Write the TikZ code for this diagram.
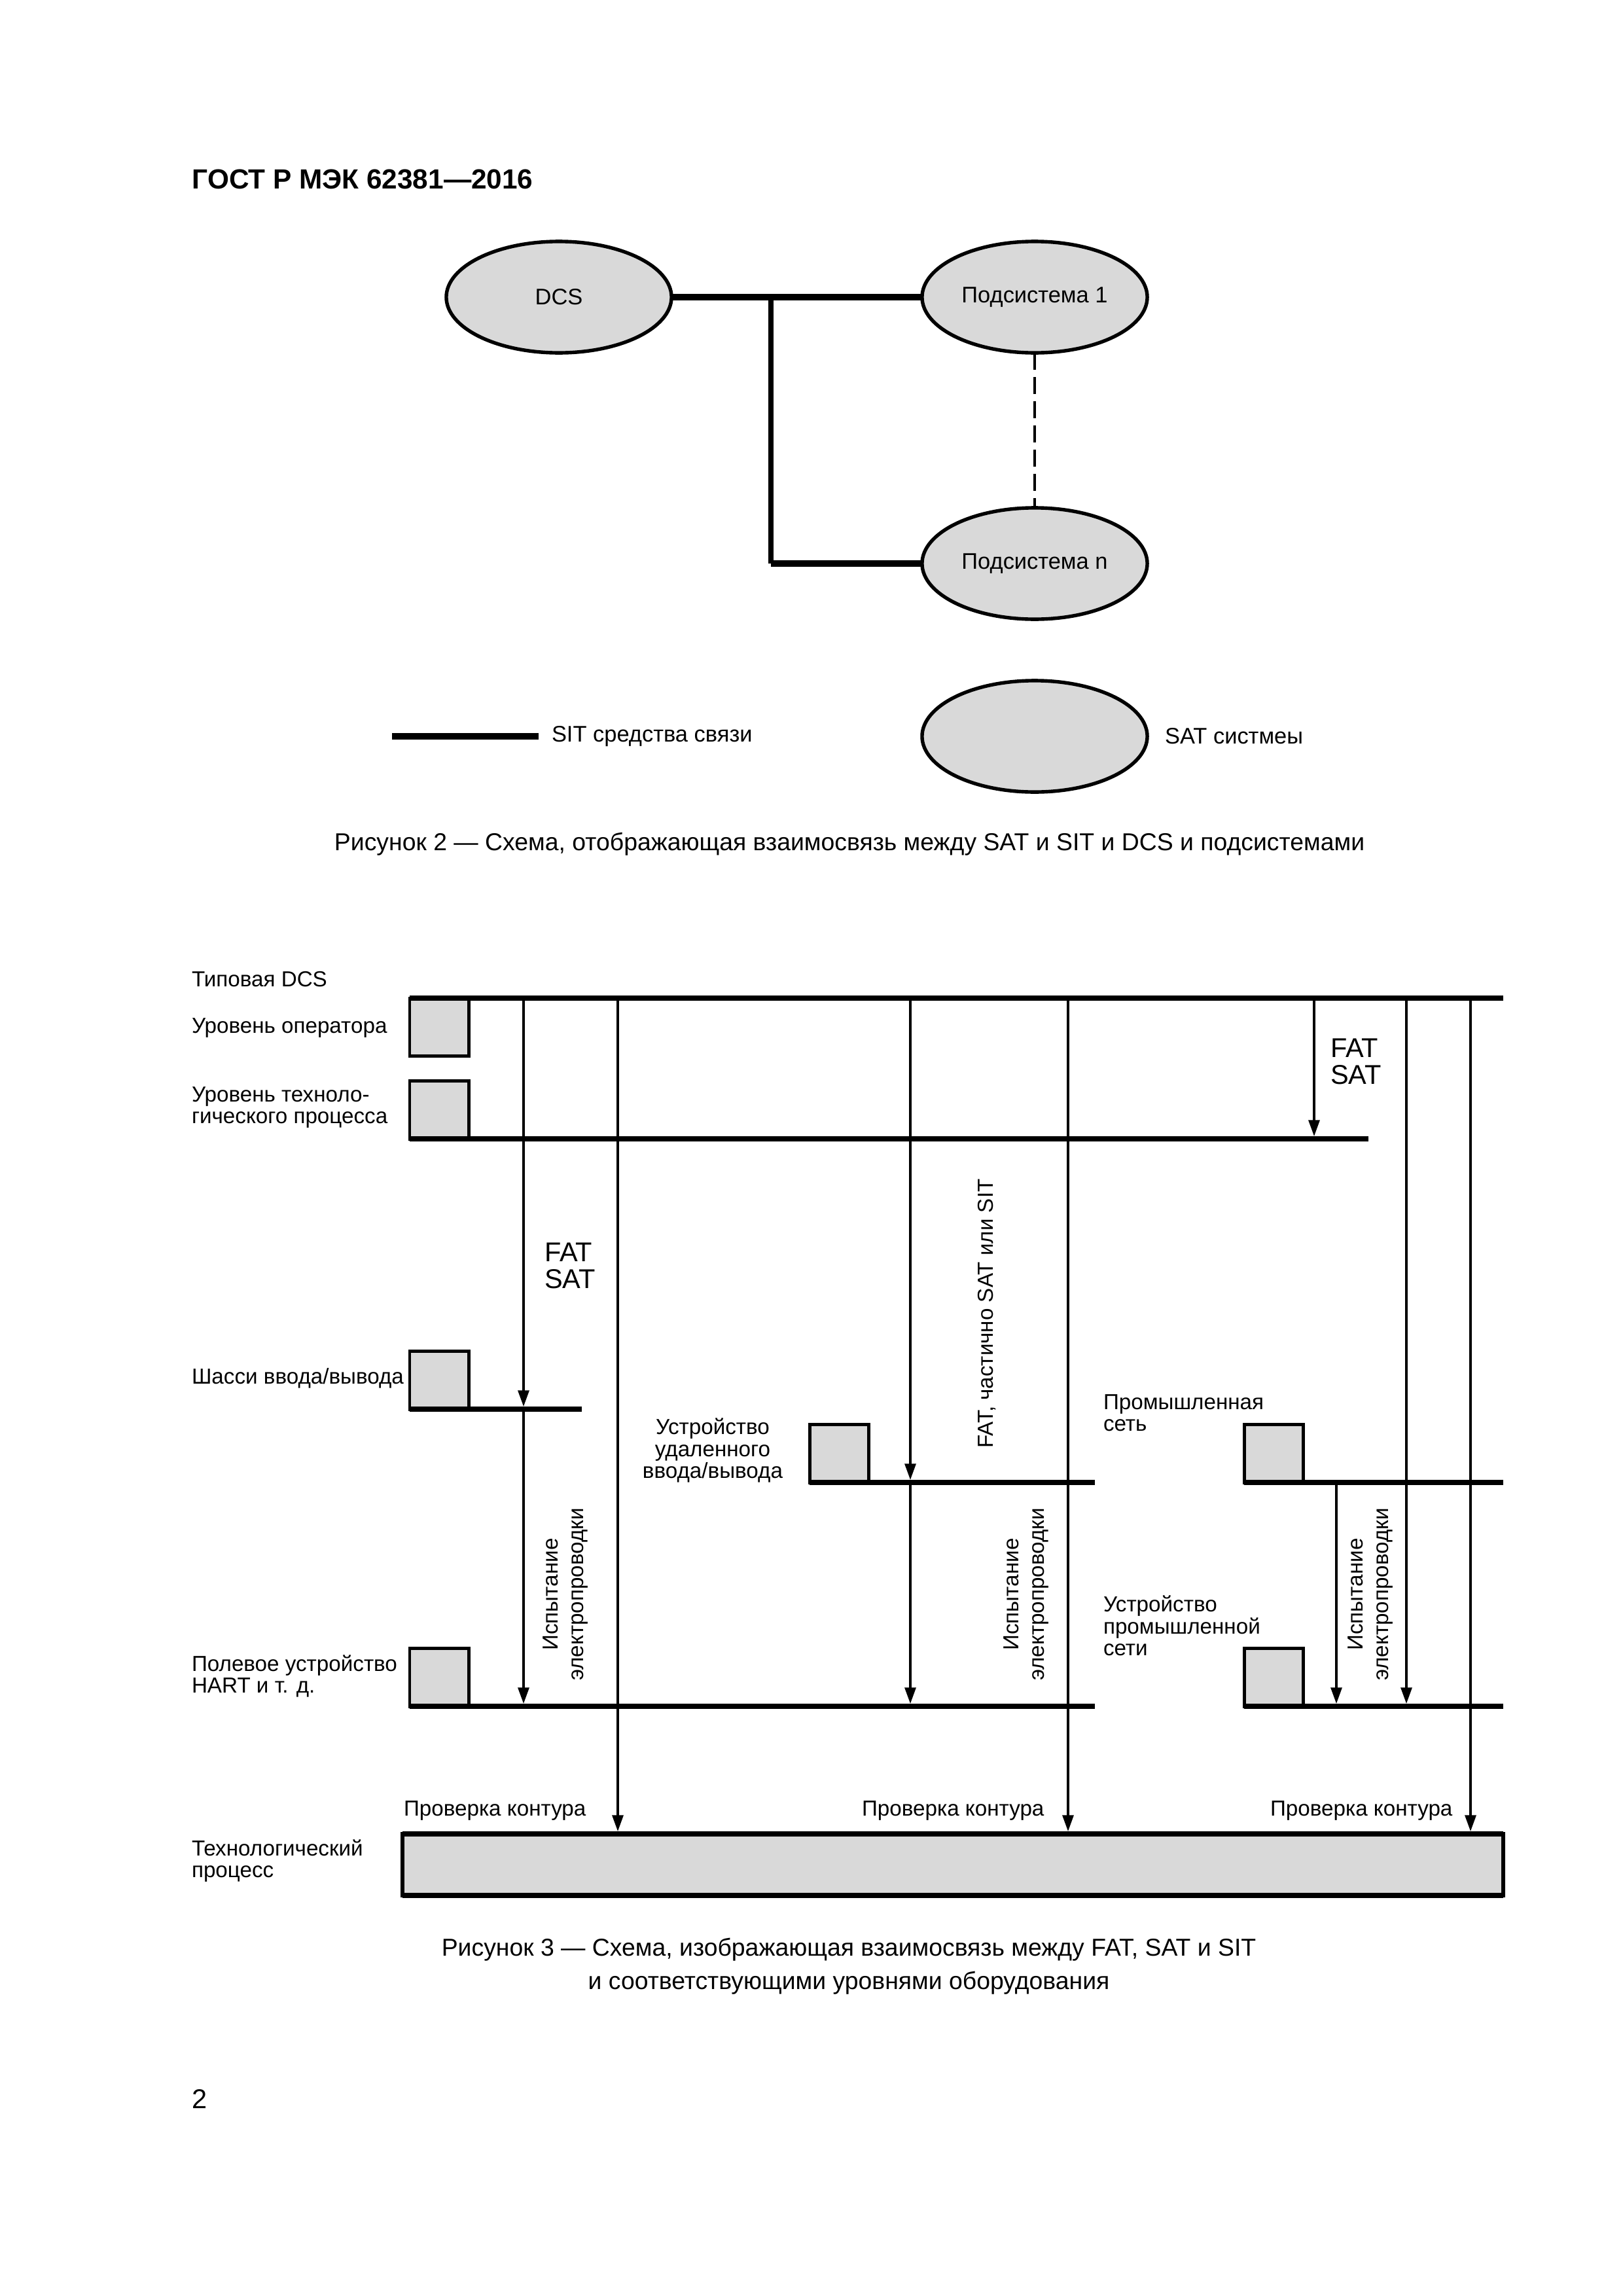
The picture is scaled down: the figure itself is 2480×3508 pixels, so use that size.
\documentclass[tikz,border=0pt]{standalone}
\usepackage{fontspec}
\setmainfont{Liberation Sans}
\usetikzlibrary{shapes.geometric,arrows.meta}
\begin{document}
\begin{tikzpicture}[x=0.0846667mm,y=-0.0846667mm,
  lbl/.style={inner sep=0pt, outer sep=0pt, align=left, font=\fontsize{8}{8}\selectfont},
  lbltwo/.style={inner sep=0pt, outer sep=0pt, align=left, font=\fontsize{8.3}{9}\selectfont},
  rlbl/.style={inner sep=0pt, outer sep=0pt, align=center, rotate=90, font=\fontsize{8}{9.3}\selectfont},
  big/.style={inner sep=0pt, outer sep=0pt, align=left, font=\fontsize{10}{10}\selectfont},
  figcap/.style={inner sep=0pt, outer sep=0pt, align=center, font=\fontsize{9}{12.3}\selectfont},
  ell/.style={ellipse, draw, line width=1.3pt, fill=black!15, minimum width=82.9pt, minimum height=41pt, inner sep=0pt, outer sep=0pt, font=\fontsize{8.3}{9}\selectfont},
  hline/.style={line width=2.4pt},
  vline/.style={line width=1.8pt},
  dashln/.style={line width=1pt, dash pattern=on 6.3pt off 2.6pt},
  bus/.style={line width=1.9pt},
  devbox/.style={draw, line width=1.2pt, fill=black!15, minimum width=21.7pt, minimum height=21.4pt, inner sep=0pt, outer sep=0pt},
  arr/.style={line width=1pt, -{Triangle[length=6pt,width=4pt]}, shorten >=0.9pt}
]
\useasboundingbox[fill=white] (0,0) rectangle (2480,3508);

% title
\node[anchor=base west, inner sep=0pt, font=\fontsize{10.2}{12}\selectfont\bfseries] (title) at (293,288) {ГОСТ Р МЭК 62381—2016};

% ---------- Figure 2 ----------
\node[ell] (dcs) at (854,454) {DCS};
\node[ell] (s1) at (1581,454) {Подсистема 1};
\node[ell] (sn) at (1581,861) {Подсистема n};
\coordinate (j) at (1178,454);
\draw[hline] (dcs.east) -- (s1.west);
\draw[vline] (j) -- (j |- sn.west);
\draw[hline] (j |- sn.west) -- (sn.west);
\draw[dashln] (s1.south) -- (sn.north);

% legend
\coordinate (lg0) at (599,1125);
\coordinate (lg1) at (823,1125);
\draw[hline] (lg0) -- (lg1);
\node[lbltwo, anchor=west] (lgt) at (843,1125) {SIT средства связи};
\node[ell] (satl) at (1581,1125) {};
\node[lbltwo, anchor=west] (satt) at (1780,1125) {SAT систмеы};

\node[figcap] (cap2) at (1298,1290) {Рисунок 2 — Схема, отображающая взаимосвязь между SAT и SIT и DCS и подсистемами};

% ---------- Figure 3 ----------
% level y coordinates
\coordinate (ytop) at (0,1525);
\coordinate (ytech) at (0,1740);
\coordinate (ychas) at (0,2153);
\coordinate (yrio) at (0,2265);
\coordinate (yfd) at (0,2607);
% vertical x coordinates
\coordinate (xa) at (800,0);
\coordinate (xb) at (944,0);
\coordinate (xc) at (1391,0);
\coordinate (xd) at (1632,0);
\coordinate (xe) at (2008,0);
\coordinate (xf) at (2042,0);
\coordinate (xg) at (2149,0);
\coordinate (xh) at (2247,0);

% boxes
\node[devbox, anchor=north west] (opbox) at (626,1525) {};
\node[devbox, anchor=south west] (techbox) at (626,1740) {};
\node[devbox, anchor=south west] (chbox) at (626,2153) {};
\node[devbox, anchor=south west] (riobox) at (1237,2265) {};
\node[devbox, anchor=south west] (fnbox) at (1901,2265) {};
\node[devbox, anchor=south west] (fdbox) at (1901,2607) {};
\node[devbox, anchor=south west] (hartbox) at (626,2607) {};
\node[draw, line width=1.3pt, fill=black!15, minimum width=405.2pt, minimum height=22.6pt, inner sep=0pt, outer sep=0pt, anchor=north west] (proc) at (615,2802) {};
\draw[bus] (proc.north west) -- (proc.north east);
\draw[bus] (proc.south west) -- (proc.south east);

% buses
\coordinate (topend) at (2297,1525);
\coordinate (techend) at (2091,1740);
\coordinate (chend) at (889,2153);
\coordinate (rioend) at (1673,2265);
\coordinate (fnend) at (2297,2265);
\coordinate (fdend) at (2297,2607);
\coordinate (hartend) at (1673,2607);
\draw[bus] (opbox.north west) -- (topend);
\draw[bus] (techbox.south west) -- (techend);
\draw[bus] (chbox.south west) -- (chend);
\draw[bus] (riobox.south west) -- (rioend);
\draw[bus] (fnbox.south west) -- (fnend);
\draw[bus] (fdbox.south west) -- (fdend);
\draw[bus] (hartbox.south west) -- (hartend);

% arrows
\draw[arr] (xa |- ytop) -- (xa |- ychas);
\draw[arr] (xa |- ychas) -- (xa |- yfd);
\draw[arr] (xb |- ytop) -- (xb |- proc.north);
\draw[arr] (xc |- ytop) -- (xc |- yrio);
\draw[arr] (xc |- yrio) -- (xc |- yfd);
\draw[arr] (xd |- ytop) -- (xd |- proc.north);
\draw[arr] (xe |- ytop) -- (xe |- ytech);
\draw[arr] (xf |- yrio) -- (xf |- yfd);
\draw[arr] (xg |- ytop) -- (xg |- yfd);
\draw[arr] (xh |- ytop) -- (xh |- proc.north);

% left labels
\node[lbl, anchor=west] (l0) at (293,1496) {Типовая DCS};
\node[lbl, anchor=west] (l1) at (293,1570) {Уровень оператора};
\node[lbl, anchor=west] (l2) at (293,1692) {Уровень техноло-\\гического процесса};
\node[lbl, anchor=west] (l3) at (293,2106) {Шасси ввода/вывода};
\node[lbl, anchor=west] (l4) at (293,2561) {Полевое устройство\\HART и т. д.};
\node[lbl, anchor=west] (l5) at (293,2843) {Технологический\\процесс};

% inner labels
\node[lbl, align=center] (rio) at (1089,2216) {Устройство\\удаленного\\ввода/вывода};
\node[lbl, anchor=west] (fn) at (1686,2159) {Промышленная\\сеть};
\node[lbl, anchor=west] (fd) at (1686,2484) {Устройство\\промышленной\\сети};
\node[lbl, anchor=west] (pk1) at (617,2766) {Проверка контура};
\node[lbl, anchor=west] (pk2) at (1317,2766) {Проверка контура};
\node[lbl, anchor=west] (pk3) at (1941,2766) {Проверка контура};

\node[big, anchor=west] (fs1) at (2033,1622) {FAT\\SAT};
\node[big, anchor=west] (fs2) at (832,1934) {FAT\\SAT};

\node[rlbl] (fps) at (1508,2007) {FAT, частично SAT или SIT};
\node[rlbl] (w1) at (864,2436) {Испытание\\электропроводки};
\node[rlbl] (w2) at (1568,2436) {Испытание\\электропроводки};
\node[rlbl] (w3) at (2094,2436) {Испытание\\электропроводки};

\node[figcap] (cap3) at (1297,3004) {Рисунок 3 — Схема, изображающая взаимосвязь между FAT, SAT и SIT\\и соответствующими уровнями оборудования};

\node[anchor=west, inner sep=0pt, font=\fontsize{10}{12}\selectfont] (pg) at (293,3207) {2};
\end{tikzpicture}
\end{document}
